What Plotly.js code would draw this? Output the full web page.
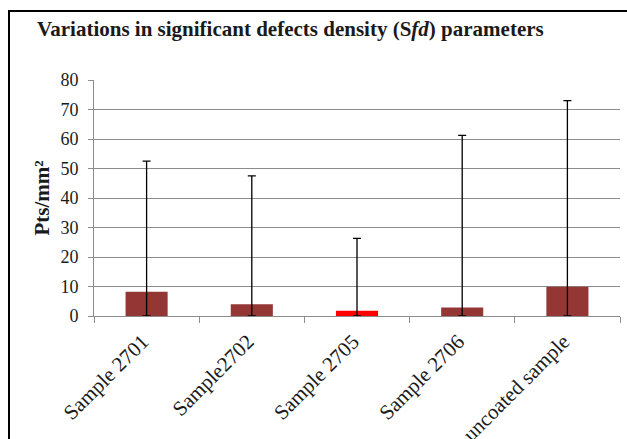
<!DOCTYPE html>
<html>
<head>
<meta charset="utf-8">
<script src="https://cdn.plot.ly/plotly-3.0.1.min.js"></script>
<style>html,body{margin:0;padding:0;background:#fff;}#chart{width:627px;height:439px;}</style>
</head>
<body>
<div id="chart"></div>
<script>
const categories = ["Sample 2701", "Sample2702", "Sample 2705", "Sample 2706", "uncoated sample"];
const meanValues = [8.2, 4.0, 1.8, 2.9, 9.9];
const upperValues = [52.5, 47.5, 26.3, 61.2, 73.0];
const barColors = ["#943634", "#943634", "#ff0000", "#943634", "#943634"];
const yTickValues = [0, 10, 20, 30, 40, 50, 60, 70, 80];

const errPlus = upperValues.map((u, i) => u - meanValues[i]);
const errMinus = meanValues.slice();

const W = 627, H = 439;
const L = 94, R = 7, T = 80, B = 123;
const pw = W - L - R, ph = H - T - B;
const px = x => (x - L) / pw;
const py = y => (H - B - y) / ph;
const SERIF = "'Liberation Serif', 'Times New Roman', serif";

const trace = {
  type: 'bar',
  x: categories,
  y: meanValues,
  width: 0.4,
  marker: {color: barColors, line: {width: 0}},
  error_y: {
    type: 'data',
    symmetric: false,
    array: errPlus,
    arrayminus: errMinus,
    color: '#000000',
    thickness: 1.3,
    width: 4
  },
  hoverinfo: 'none'
};

const layout = {
  width: W, height: H,
  margin: {l: L, r: R, t: T, b: B, pad: 0},
  paper_bgcolor: '#ffffff',
  plot_bgcolor: '#ffffff',
  showlegend: false,
  font: {family: SERIF, color: '#1a1a1a'},
  title: {
    text: '<b>Variations in significant defects density (S<i>fd</i>) parameters</b>',
    font: {family: SERIF, size: 21, color: '#1a1a1a'},
    xref: 'container', yref: 'container',
    x: 37 / W, xanchor: 'left',
    y: 1 - 29 / H, yanchor: 'middle'
  },
  xaxis: {
    type: 'category',
    tickson: 'boundaries',
    ticks: 'outside',
    ticklen: 6,
    tickcolor: '#8c8c8c',
    showline: true,
    linecolor: '#8c8c8c',
    linewidth: 1,
    showgrid: false,
    tickangle: -45,
    ticklabelstandoff: 4,
    ticklabelshift: -4,
    tickfont: {family: SERIF, size: 21, color: '#1a1a1a'},
    fixedrange: true
  },
  yaxis: {
    range: [0, 80],
    tickvals: yTickValues,
    ticks: 'outside',
    ticklen: 5,
    tickcolor: '#8c8c8c',
    showline: true,
    linecolor: '#8c8c8c',
    linewidth: 1,
    showgrid: true,
    gridcolor: '#8c8c8c',
    gridwidth: 1,
    zeroline: false,
    ticklabelstandoff: 6,
    tickfont: {family: SERIF, size: 18, color: '#1a1a1a'},
    title: {
      text: '<b>Pts/mm²</b>',
      font: {family: SERIF, size: 21, color: '#1a1a1a'},
      standoff: 5
    },
    fixedrange: true
  },
  shapes: [{
    type: 'rect', xref: 'paper', yref: 'paper',
    x0: px(9), x1: px(640), y0: py(460), y1: py(11),
    line: {color: '#000000', width: 2},
    fillcolor: 'rgba(0,0,0,0)',
    layer: 'below'
  }]
};

Plotly.newPlot('chart', [trace], layout, {displayModeBar: false, staticPlot: true});
</script>
</body>
</html>
